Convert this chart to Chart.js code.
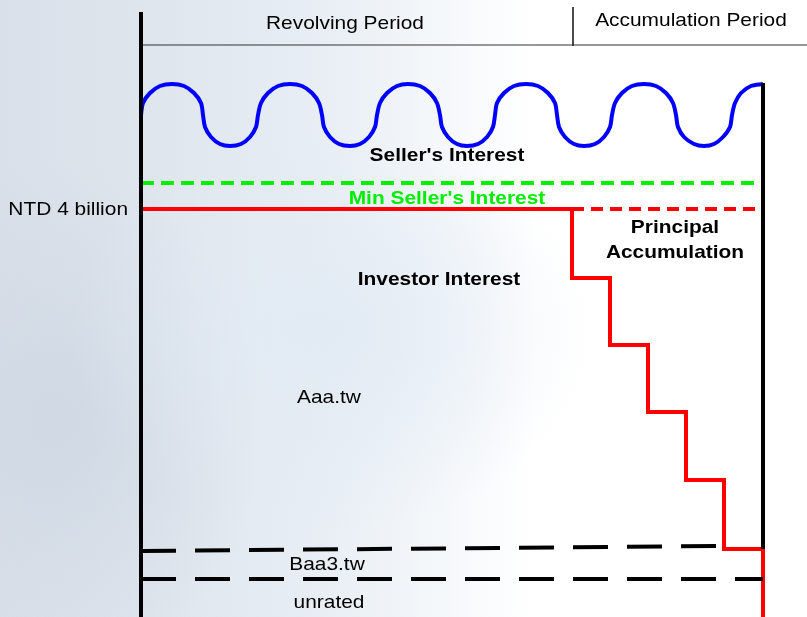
<!DOCTYPE html>
<html>
<head>
<meta charset="utf-8">
<script src="https://cdn.jsdelivr.net/npm/chart.js@4"></script>
<style>
  html, body { margin: 0; padding: 0; }
  body {
    width: 807px; height: 617px; overflow: hidden;
    background:
      radial-gradient(ellipse 260px 200px at 330px 330px, rgba(225,234,244,0.9), rgba(225,234,244,0) 100%),
      radial-gradient(ellipse 200px 260px at 60px 420px, rgba(205,214,226,0.8), rgba(205,214,226,0) 100%),
      linear-gradient(90deg, #d9e0e9 0%, #dfe6ee 20%, #e8eef4 40%, #f5f8fb 55%, #ffffff 66%, #ffffff 100%);
  }
  #wrap { position: relative; width: 807px; height: 617px; }
</style>
</head>
<body>
<div id="wrap"><canvas id="diagram" width="807" height="617"></canvas></div>
<script>
// wave of the seller's interest (diagram units)
const waveX = [141, 143, 150, 160, 172, 184, 194, 201, 203,
  205, 211, 220, 230, 241, 250, 256, 258,
  261, 268, 278, 290, 302, 312, 319, 322,
  324, 330, 339, 350, 360, 369, 375, 377,
  380, 387, 397, 408, 420, 430, 437, 440,
  442, 448, 457, 467, 478, 487, 493, 495,
  497, 504, 514, 526, 538, 548, 555, 557,
  559, 565, 574, 584, 595, 604, 610, 612,
  615, 622, 632, 644, 656, 666, 673, 676,
  678, 684, 694, 704, 714, 723, 730, 732,
  735, 741, 751, 763];
const waveY = [115, 103, 93, 86, 84, 86, 93, 103, 115,
  127, 137, 144, 146, 144, 137, 127, 115,
  103, 93, 86, 84, 86, 93, 103, 115,
  127, 137, 144, 146, 144, 137, 127, 115,
  103, 93, 86, 84, 86, 93, 103, 115,
  127, 137, 144, 146, 144, 137, 127, 115,
  103, 93, 86, 84, 86, 93, 103, 115,
  127, 137, 144, 146, 144, 137, 127, 115,
  103, 93, 86, 84, 86, 93, 103, 115,
  127, 137, 144, 146, 144, 137, 127, 115,
  103, 93, 86, 84];

// investor interest: solid then stepping down during accumulation
const stepX = [141, 572, 572, 610, 610, 648, 648, 686, 686, 724, 724, 763, 763];
const stepY = [209, 209, 278, 278, 345, 345, 412, 412, 480, 480, 549, 549, 617];

const minSellerY = 183;
const ntdLevelY = 209;
const baaTopX = [141, 724];
const baaTopY = [551, 546];
const baaBottomY = 579;

const labels = ['Revolving Period', 'Accumulation Period', "Seller's Interest", "Min Seller's Interest",
  'NTD 4 billion', 'Principal', 'Accumulation', 'Investor Interest', 'Aaa.tw', 'Baa3.tw', 'unrated'];

const pts = (xs, ys) => xs.map((x, i) => ({ x: x, y: ys[i] }));

const line = (data, color, width, dash, extra) => Object.assign({
  data: data, showLine: true, borderColor: color, borderWidth: width,
  borderDash: dash || [], pointRadius: 0, tension: 0, fill: false
}, extra || {});

const datasets = [
  // frame
  line(pts([141, 141], [12, 617]), '#000', 4),
  line(pts([763, 763], [83, 549]), '#000', 4),
  line(pts([141, 807], [45, 45]), '#333', 1),
  line(pts([573, 573], [7, 46]), '#333', 1),
  // rating tranches
  line(pts(baaTopX, baaTopY), '#000', 4, [35, 19]),
  line(pts([141, 763], [baaBottomY, baaBottomY]), '#000', 4, [35, 19]),
  // min seller's interest
  line(pts([141, 765], [minSellerY, minSellerY]), '#00f000', 4, [13, 7]),
  // NTD 4 billion dashed continuation
  line(pts([572, 765], [ntdLevelY, ntdLevelY]), '#ff0000', 4, [12, 7]),
  // investor interest
  line(pts(stepX, stepY), '#ff0000', 4),
  // seller's interest wave
  line(pts(waveX, waveY), '#0000ff', 4, [], { tension: 0.3 })
];

const textPlugin = {
  id: 'texts',
  afterDatasetsDraw(chart) {
    const { ctx, scales: { x, y } } = chart;
    const reg = '19px "Liberation Sans", Arial, sans-serif';
    const bold = 'bold 19px "Liberation Sans", Arial, sans-serif';
    const place = [
      [345, 24, 'center', reg, '#000'],
      [691, 21, 'center', reg, '#000'],
      [447, 156, 'center', bold, '#000'],
      [447, 199, 'center', bold, '#00ee00'],
      [128, 210, 'right', reg, '#000'],
      [675, 228, 'center', bold, '#000'],
      [675, 253, 'center', bold, '#000'],
      [439, 280, 'center', bold, '#000'],
      [329, 398, 'center', reg, '#000'],
      [327, 565, 'center', reg, '#000'],
      [329, 603, 'center', reg, '#000']
    ];
    ctx.save();
    ctx.textBaseline = 'middle';
    labels.forEach((t, i) => {
      const p = place[i];
      ctx.save();
      ctx.font = p[3];
      ctx.fillStyle = p[4];
      ctx.textAlign = p[2];
      ctx.translate(x.getPixelForValue(p[0]), y.getPixelForValue(p[1]));
      ctx.scale(1.1, 1); // text in the picture is a little wide
      ctx.fillText(t, 0, 0);
      ctx.restore();
    });
    ctx.restore();
  }
};

new Chart(document.getElementById('diagram').getContext('2d'), {
  type: 'scatter',
  data: { datasets: datasets },
  options: {
    responsive: false,
    animation: false,
    layout: { padding: 0 },
    scales: {
      x: { type: 'linear', min: 0, max: 807, display: false },
      y: { type: 'linear', min: 0, max: 617, reverse: true, display: false }
    },
    plugins: {
      legend: { display: false },
      tooltip: { enabled: false }
    }
  },
  plugins: [textPlugin]
});
</script>
</body>
</html>
